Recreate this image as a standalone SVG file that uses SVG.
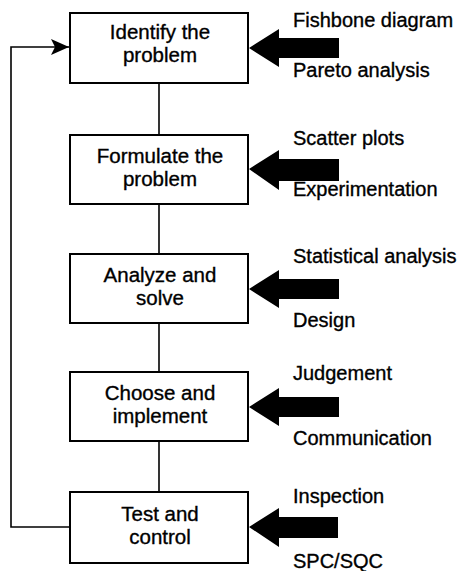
<svg xmlns="http://www.w3.org/2000/svg" width="467" height="571" viewBox="0 0 467 571">
  <style>
    .box { fill: #fff; stroke: #000; stroke-width: 2; }
    .lbl { font-family: "Liberation Sans", Arial, Helvetica, sans-serif; font-size: 20.5px; fill: #000; stroke: #000; stroke-width: 0.35; }
    .side { font-family: "Liberation Sans", Arial, Helvetica, sans-serif; font-size: 20px; fill: #000; stroke: #000; stroke-width: 0.35; }
    .link { fill: none; stroke: #000; stroke-width: 1.6; }
    .fat { fill: #000; }
  </style>
  <defs>
    <marker id="head" markerWidth="20" markerHeight="18" refX="18" refY="8" orient="auto" markerUnits="userSpaceOnUse">
      <path d="M0,0 L18,8 L0,16 L4,8 Z" fill="#000"/>
    </marker>
  </defs>

  <!-- connectors -->
  <g id="connectors">
    <line class="link" x1="159" y1="83" x2="159" y2="135"/>
    <line class="link" x1="159" y1="204" x2="159" y2="254"/>
    <line class="link" x1="159" y1="323" x2="159" y2="372"/>
    <line class="link" x1="159" y1="441" x2="159" y2="492"/>
    <polyline class="link" points="70,527 11,527 11,47 69,47" marker-end="url(#head)"/>
    <!-- fat input arrows -->
    <polygon class="fat" points="249,48 279,29 279,38 339,38 339,58 279,58 279,67"/>
    <polygon class="fat" points="249,169 279,150 279,159 339,159 339,181 279,181 279,190"/>
    <polygon class="fat" points="249,289 279,270 279,279 339,279 339,299 279,299 279,308"/>
    <polygon class="fat" points="249,407 279,388 279,397 339,397 339,417 279,417 279,426"/>
    <polygon class="fat" points="249,527 279,508 279,517 338,517 338,538 279,538 279,547"/>
  </g>

  <g id="identify">
    <rect class="box" x="70" y="13" width="178" height="70"/>
    <text class="lbl" x="160" y="39" text-anchor="middle">Identify the</text>
    <text class="lbl" x="160" y="62" text-anchor="middle">problem</text>
    <text class="side" x="293" y="27">Fishbone diagram</text>
    <text class="side" x="293" y="77">Pareto analysis</text>
  </g>

  <g id="formulate">
    <rect class="box" x="70" y="135" width="178" height="69"/>
    <text class="lbl" x="160" y="163" text-anchor="middle">Formulate the</text>
    <text class="lbl" x="160" y="186" text-anchor="middle">problem</text>
    <text class="side" x="293" y="145">Scatter plots</text>
    <text class="side" x="293" y="196">Experimentation</text>
  </g>

  <g id="analyze">
    <rect class="box" x="70" y="254" width="178" height="69"/>
    <text class="lbl" x="160" y="282" text-anchor="middle">Analyze and</text>
    <text class="lbl" x="160" y="305" text-anchor="middle">solve</text>
    <text class="side" x="293" y="263">Statistical analysis</text>
    <text class="side" x="293" y="327">Design</text>
  </g>

  <g id="choose">
    <rect class="box" x="70" y="372" width="178" height="69"/>
    <text class="lbl" x="160" y="400" text-anchor="middle">Choose and</text>
    <text class="lbl" x="160" y="423" text-anchor="middle">implement</text>
    <text class="side" x="293" y="380">Judgement</text>
    <text class="side" x="293" y="445">Communication</text>
  </g>

  <g id="test">
    <rect class="box" x="70" y="492" width="178" height="71"/>
    <text class="lbl" x="160" y="521" text-anchor="middle">Test and</text>
    <text class="lbl" x="160" y="544" text-anchor="middle">control</text>
    <text class="side" x="293" y="503">Inspection</text>
    <text class="side" x="293" y="568">SPC/SQC</text>
  </g>
</svg>
